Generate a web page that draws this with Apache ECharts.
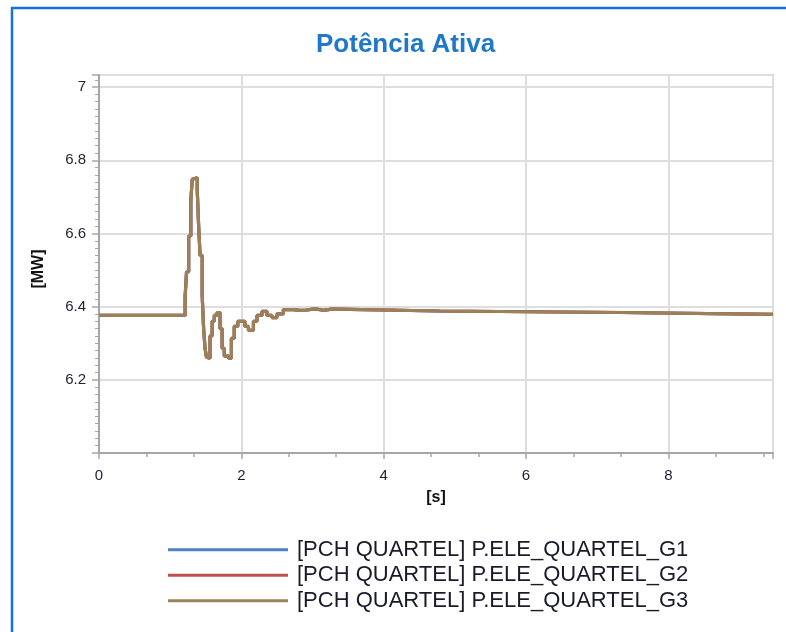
<!DOCTYPE html>
<html>
<head>
<meta charset="utf-8">
<script src="https://cdn.jsdelivr.net/npm/echarts@6/dist/echarts.min.js"></script>
<style>
  html, body { margin: 0; padding: 0; background: #fff; }
  #chart { width: 786px; height: 632px; }
</style>
</head>
<body>
<div id="chart"></div>
<script>
const seriesNames = [
  '[PCH QUARTEL] P.ELE_QUARTEL_G1',
  '[PCH QUARTEL] P.ELE_QUARTEL_G2',
  '[PCH QUARTEL] P.ELE_QUARTEL_G3'
];

// time [s] of each sample (held until the next one)
const timeG3 = [0, 1.21, 1.23, 1.26, 1.29, 1.31, 1.33, 1.38, 1.40, 1.42, 1.45, 1.47, 1.49, 1.51, 1.53,
  1.56, 1.59, 1.62, 1.66, 1.70, 1.73, 1.76, 1.82, 1.86, 1.90, 1.95, 2.00, 2.05, 2.10, 2.17, 2.22,
  2.29, 2.36, 2.43, 2.50, 2.59, 2.66, 2.73, 2.82, 2.90, 3.00, 3.06, 3.15, 3.27, 3.32, 4.79, 7.35, 9.47];
const timeG1 = [0, 1.21, 1.23, 1.26, 1.29, 1.31, 1.33, 1.38, 1.40, 1.42, 1.45, 1.47, 1.49, 1.51, 1.53,
  1.56, 1.59, 1.62, 1.66, 1.70, 1.73, 1.76, 1.82, 1.86, 1.90, 1.95, 2.00, 2.05, 2.10, 2.17, 2.22,
  2.29, 2.36, 2.43, 2.50, 2.59, 2.66, 2.73, 2.82, 2.90, 3.00, 3.06, 3.15, 3.27, 3.32, 4.76, 7.28, 9.47];

// active power [MW]
const powerG1 = [6.376, 6.427, 6.495, 6.593, 6.690, 6.748, 6.752, 6.720, 6.620, 6.540, 6.430, 6.340, 6.286, 6.262, 6.259,
  6.320, 6.360, 6.376, 6.384, 6.340, 6.286, 6.265, 6.259, 6.313, 6.346, 6.360, 6.360, 6.346, 6.335, 6.360, 6.376,
  6.387, 6.376, 6.370, 6.380, 6.392, 6.392, 6.390, 6.390, 6.393, 6.393, 6.390, 6.393, 6.393, 6.388, 6.384, 6.379, 6.379];
const powerG2 = [6.376, 6.427, 6.495, 6.593, 6.690, 6.748, 6.752, 6.720, 6.620, 6.540, 6.430, 6.340, 6.286, 6.262, 6.259,
  6.320, 6.360, 6.376, 6.384, 6.340, 6.286, 6.265, 6.259, 6.313, 6.346, 6.360, 6.360, 6.346, 6.335, 6.360, 6.376,
  6.387, 6.376, 6.370, 6.380, 6.392, 6.392, 6.390, 6.390, 6.393, 6.393, 6.390, 6.393, 6.393, 6.388, 6.384, 6.379, 6.379];
const powerG3 = [6.376, 6.427, 6.495, 6.593, 6.690, 6.748, 6.752, 6.720, 6.620, 6.540, 6.430, 6.340, 6.286, 6.262, 6.259,
  6.320, 6.360, 6.376, 6.384, 6.340, 6.286, 6.265, 6.259, 6.313, 6.346, 6.360, 6.360, 6.346, 6.335, 6.360, 6.376,
  6.387, 6.376, 6.370, 6.380, 6.392, 6.392, 6.390, 6.390, 6.393, 6.393, 6.390, 6.393, 6.393, 6.388, 6.384, 6.379, 6.379];

const colors = ['#4f81bd', '#c0504d', '#9c8058'];

function pairs(t, v) {
  return t.map((x, i) => [x, v[i]]);
}

const chart = echarts.init(document.getElementById('chart'));

const font = 'Liberation Sans, Arial, sans-serif';
const labelFont = { fontFamily: font, fontSize: 15, color: '#1e2030' };

chart.setOption({
  backgroundColor: '#fff',
  animation: false,
  title: {
    text: 'Potência Ativa',
    left: 311,
    top: 27,
    textStyle: { fontFamily: font, fontSize: 26, fontWeight: 'bold', color: '#1f78c8' }
  },
  graphic: [{
    type: 'rect',
    shape: { x: 12, y: 8, width: 900, height: 800 },
    style: { fill: 'none', stroke: '#1672d8', lineWidth: 2.5 },
    silent: true
  }],
  legend: {
    orient: 'vertical',
    left: 168,
    top: 537,
    padding: 0,
    itemWidth: 120,
    itemHeight: 3,
    itemGap: 0,
    icon: 'rect',
    data: seriesNames,
    textStyle: { fontFamily: font, fontSize: 22, color: '#1a1a2a', lineHeight: 25.5, padding: [0, 0, 0, 4] }
  },
  grid: {
    left: 99, right: 13, top: 75, bottom: 179,
    show: true, borderColor: '#c4c4c4', borderWidth: 2
  },
  xAxis: {
    type: 'value',
    min: 0, max: 9.47, interval: 2,
    name: '[s]', nameLocation: 'middle', nameGap: 37,
    nameTextStyle: { fontFamily: font, fontSize: 16, fontWeight: 'bold', color: '#111' },
    axisLine: { lineStyle: { color: '#a6a6a6', width: 2 } },
    axisTick: { length: 6, lineStyle: { color: '#a6a6a6', width: 1.5 } },
    minorTick: { show: true, splitNumber: 3, length: 4, lineStyle: { color: '#a6a6a6', width: 1.5 } },
    axisLabel: Object.assign({ margin: 15, formatter: v => (Math.abs(v / 2 - Math.round(v / 2)) < 1e-6 ? String(v) : '') }, labelFont),
    splitLine: { lineStyle: { color: '#dedede', width: 2 } }
  },
  yAxis: {
    type: 'value',
    min: 6, max: 7.033, interval: 0.2,
    name: '[MW]', nameLocation: 'middle', nameGap: 52, nameRotate: 90,
    nameTextStyle: { fontFamily: font, fontSize: 16, fontWeight: 'bold', color: '#111', padding: [0, 10, 0, 0] },
    axisLine: { show: true, lineStyle: { color: '#a6a6a6', width: 2 } },
    axisTick: { show: true, length: 7, lineStyle: { color: '#a6a6a6', width: 1.5 } },
    minorTick: { show: true, splitNumber: 10, length: 4, lineStyle: { color: '#a6a6a6', width: 1 } },
    axisLabel: Object.assign({
      margin: 13,
      formatter: v => {
        const k = v / 0.2;
        if (v < 6.1 || Math.abs(k - Math.round(k)) > 1e-6) return '';
        return (+v.toFixed(1)).toString();
      }
    }, labelFont),
    splitLine: { lineStyle: { color: '#dedede', width: 2 } }
  },
  series: [
    { name: seriesNames[0], data: pairs(timeG1, powerG1) },
    { name: seriesNames[1], data: pairs(timeG3, powerG2) },
    { name: seriesNames[2], data: pairs(timeG3, powerG3) }
  ].map((s, i) => Object.assign({
    type: 'line',
    step: 'end',
    showSymbol: false,
    color: colors[i],
    lineStyle: { width: 3.2, color: colors[i] }
  }, s))
});
</script>
</body>
</html>
